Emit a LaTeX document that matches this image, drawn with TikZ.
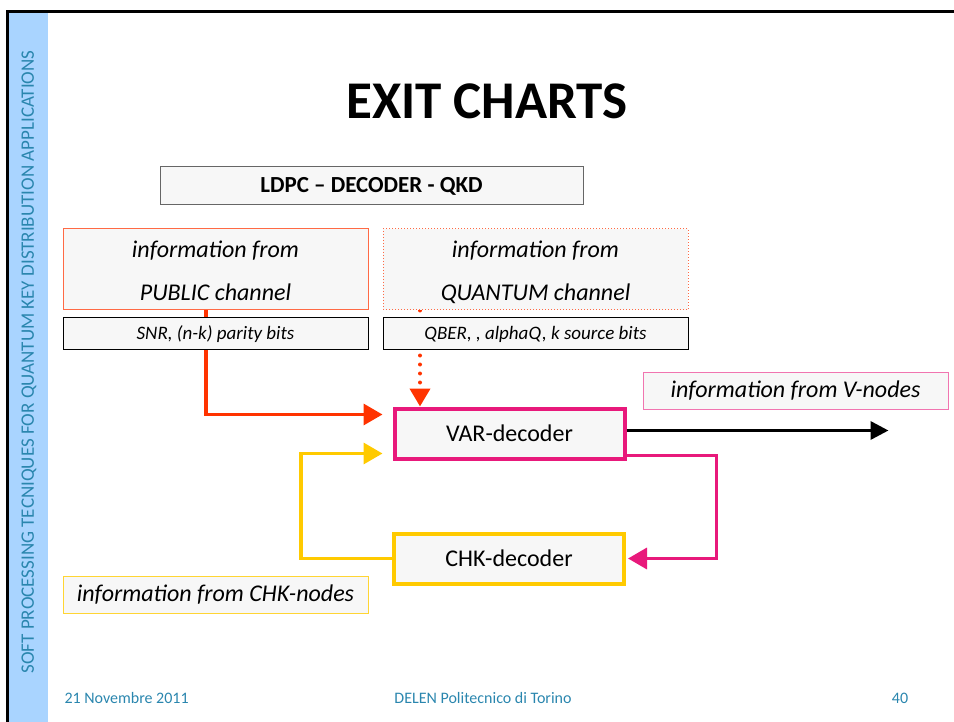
\documentclass[tikz,border=0pt]{standalone}
\usepackage{fontspec}
\setmainfont{Carlito}
\usetikzlibrary{arrows.meta,calc,backgrounds}

\begin{document}
\begin{tikzpicture}[x=1pt,y=-1pt,
    infobox/.style={draw, fill=boxFill, line width=1pt, minimum width=305pt, inner sep=0pt},
    decoder/.style={draw, fill=boxFill, line width=4pt, minimum width=230pt, minimum height=50pt, font=\fontsize{24}{28}\selectfont},
    flow/.style={line width=3.5pt, -{Triangle[length=19pt,width=21pt]}}]
    \definecolor{boxFill}{HTML}{F7F7F7}
    \definecolor{stripColour}{HTML}{A9D4FF}
    \definecolor{tealText}{HTML}{2A86AE}
    \definecolor{publicColour}{HTML}{FF3300}
    \definecolor{publicEdge}{HTML}{FF6A45}
    \definecolor{varColour}{HTML}{E8197B}
    \definecolor{chkColour}{HTML}{FFCA00}

    \useasboundingbox (0,0) rectangle (954,722);

    % Slide frame and side strip
    \fill[stripColour] (8,13) rectangle (48,722);
    \draw[line width=3pt] (7,722) -- (7,12) -- (954,12);
    \node[rotate=90, text=tealText, font=\fontsize{19}{22}\selectfont] (side) at (29,362)
        {SOFT PROCESSING TECNIQUES FOR QUANTUM KEY DISTRIBUTION APPLICATIONS};

    % Title
    \node[font=\fontsize{53}{62}\bfseries] (title) at (487,101) {EXIT CHARTS};
    \node[draw=gray!80!black, fill=boxFill, line width=1pt, minimum width=423pt, minimum height=38pt,
        font=\fontsize{23}{26}\bfseries] (ldpc) at (371.5,186) {LDPC -- DECODER - QKD};

    % Channel boxes
    \node[infobox, draw=publicEdge, minimum height=81pt, align=center,
        font=\fontsize{24}{43}\itshape] (public) at (215.5,269.5)
        {\rule{0pt}{22pt}information from\\\vphantom{Qy}PUBLIC channel};
    \node[infobox, draw=publicEdge, dotted, minimum height=81pt, align=center,
        font=\fontsize{24}{43}\itshape] (quantum) at (535.5,269.5)
        {\rule{0pt}{22pt}information from\\\vphantom{Qy}QUANTUM channel};
    \node[infobox, draw=black, minimum height=32pt, font=\fontsize{19}{22}\itshape] (snr) at (215.5,334)
        {SNR, (n-k) parity bits};
    \node[infobox, draw=black, minimum height=32pt, font=\fontsize{19}{22}\itshape] (qber) at (535.5,334)
        {QBER, , alphaQ, k source bits};

    % Decoders
    \node[decoder, draw=varColour, minimum height=50pt] (var) at (509.5,433.5) {VAR-decoder};
    \node[decoder, draw=chkColour] (chk) at (509,558.5) {CHK-decoder};

    % Side labels
    \node[infobox, draw=varColour!60, line width=0.8pt, minimum height=37pt, font=\fontsize{24}{28}\itshape]
        (vnodes) at (795.5,390.5) {information from V-nodes};
    \node[infobox, draw=chkColour!80, line width=0.8pt, minimum height=37pt, font=\fontsize{24}{28}\itshape]
        (chknodes) at (215.5,595) {information from CHK-nodes};

    % Arrows
    \begin{pgfonlayer}{background}
        \draw[flow, publicColour] (public.south -| 206,0) |- ($(var.north west)+(-10,8)$);
        \draw[publicColour, line width=4pt, line cap=round, dash pattern=on 0pt off 9pt,
            -{Triangle[length=18pt,width=20pt]}] (quantum.south -| 420,0) -- (var.north -| 420,0);
    \end{pgfonlayer}
    \draw[flow, chkColour] (chk.west) -- ++(-91,0) |- ($(var.south west)+(-10,-7)$);
    \draw[flow, varColour] ($(var.south east)+(0,-5)$) -- ++(90,0) |- ($(chk.east)+(2,0)$);
    \draw[line width=3.5pt, -{Triangle[length=18pt,width=18pt]}] ($(var.east)+(0,-3)$) -- ++(262,0);

    % Footer
    \node[anchor=west, text=tealText, font=\fontsize{16}{19}\selectfont] (date) at (61,698) {21 Novembre 2011};
    \node[text=tealText, font=\fontsize{16}{19}\selectfont] (place) at (483,698) {DELEN Politecnico di Torino};
    \node[text=tealText, font=\fontsize{16}{19}\selectfont] (page) at (900,698) {40};

\end{tikzpicture}
\end{document}
